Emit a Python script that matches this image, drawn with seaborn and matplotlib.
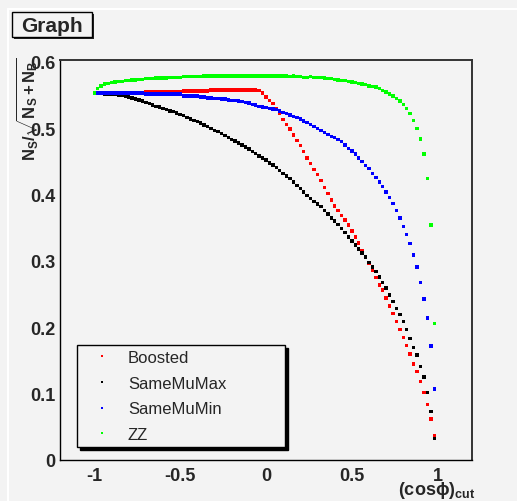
import numpy as np
import pandas as pd
import seaborn as sns
import matplotlib.pyplot as plt
from matplotlib.patches import Rectangle
from matplotlib.lines import Line2D

# cut values on cos(phi), step 0.02
cos_cut = np.round(np.arange(-1.0, 0.99, 0.02), 2)

boosted = [
    0.553, 0.553, 0.553, 0.553, 0.553, 0.553, 0.553, 0.553, 0.553, 0.553,
    0.553, 0.553, 0.553, 0.553, 0.553, 0.555, 0.555, 0.555, 0.555, 0.555,
    0.555, 0.555, 0.555, 0.555, 0.555, 0.555, 0.556, 0.556, 0.556, 0.556,
    0.556, 0.556, 0.556, 0.556, 0.558, 0.558, 0.558, 0.558, 0.558, 0.558,
    0.558, 0.558, 0.558, 0.558, 0.558, 0.558, 0.558, 0.558, 0.557, 0.553,
    0.547, 0.542, 0.537, 0.530, 0.522, 0.513, 0.506, 0.499, 0.490, 0.482,
    0.474, 0.465, 0.455, 0.447, 0.438, 0.430, 0.421, 0.411, 0.402, 0.392,
    0.383, 0.376, 0.369, 0.362, 0.354, 0.345, 0.336, 0.327, 0.316, 0.306,
    0.297, 0.286, 0.275, 0.264, 0.256, 0.244, 0.232, 0.221, 0.209, 0.197,
    0.185, 0.173, 0.160, 0.145, 0.133, 0.118, 0.102, 0.084, 0.062, 0.037,
]
same_mu_max = [
    0.553, 0.553, 0.553, 0.552, 0.552, 0.551, 0.551, 0.550, 0.550, 0.548,
    0.547, 0.546, 0.544, 0.543, 0.541, 0.539, 0.537, 0.535, 0.533, 0.532,
    0.530, 0.528, 0.526, 0.525, 0.523, 0.521, 0.519, 0.516, 0.514, 0.512,
    0.510, 0.508, 0.505, 0.503, 0.500, 0.497, 0.495, 0.492, 0.489, 0.486,
    0.483, 0.481, 0.478, 0.475, 0.472, 0.469, 0.465, 0.462, 0.458, 0.455,
    0.452, 0.448, 0.445, 0.441, 0.436, 0.432, 0.428, 0.424, 0.419, 0.414,
    0.409, 0.404, 0.399, 0.394, 0.390, 0.386, 0.382, 0.376, 0.371, 0.365,
    0.360, 0.355, 0.349, 0.343, 0.336, 0.330, 0.324, 0.318, 0.312, 0.306,
    0.298, 0.291, 0.284, 0.276, 0.268, 0.259, 0.249, 0.239, 0.228, 0.219,
    0.209, 0.197, 0.183, 0.170, 0.158, 0.141, 0.125, 0.102, 0.073, 0.032,
]
same_mu_min = [
    0.553, 0.553, 0.553, 0.553, 0.553, 0.553, 0.553, 0.553, 0.553, 0.553,
    0.553, 0.553, 0.553, 0.553, 0.553, 0.552, 0.552, 0.552, 0.552, 0.552,
    0.552, 0.552, 0.552, 0.552, 0.552, 0.552, 0.549, 0.549, 0.549, 0.549,
    0.549, 0.547, 0.547, 0.546, 0.546, 0.545, 0.545, 0.544, 0.544, 0.543,
    0.542, 0.542, 0.541, 0.540, 0.539, 0.538, 0.536, 0.535, 0.533, 0.532,
    0.531, 0.530, 0.529, 0.528, 0.526, 0.524, 0.522, 0.520, 0.518, 0.516,
    0.514, 0.511, 0.509, 0.506, 0.503, 0.500, 0.497, 0.494, 0.491, 0.488,
    0.486, 0.483, 0.480, 0.475, 0.470, 0.466, 0.461, 0.455, 0.450, 0.444,
    0.439, 0.432, 0.426, 0.419, 0.412, 0.404, 0.396, 0.387, 0.376, 0.365,
    0.352, 0.340, 0.326, 0.309, 0.291, 0.268, 0.243, 0.214, 0.172, 0.107,
]
zz = [
    0.553, 0.560, 0.564, 0.567, 0.568, 0.569, 0.570, 0.571, 0.571, 0.572,
    0.572, 0.573, 0.573, 0.574, 0.574, 0.575, 0.575, 0.575, 0.576, 0.576,
    0.576, 0.576, 0.577, 0.577, 0.577, 0.577, 0.578, 0.578, 0.578, 0.578,
    0.578, 0.578, 0.579, 0.579, 0.579, 0.579, 0.579, 0.579, 0.579, 0.579,
    0.579, 0.579, 0.579, 0.579, 0.579, 0.579, 0.579, 0.579, 0.579, 0.579,
    0.579, 0.579, 0.579, 0.579, 0.579, 0.579, 0.579, 0.578, 0.579, 0.578,
    0.578, 0.577, 0.577, 0.578, 0.577, 0.577, 0.577, 0.576, 0.575, 0.575,
    0.574, 0.573, 0.572, 0.572, 0.571, 0.570, 0.569, 0.568, 0.567, 0.566,
    0.564, 0.563, 0.562, 0.560, 0.557, 0.555, 0.552, 0.549, 0.545, 0.541,
    0.536, 0.530, 0.522, 0.512, 0.500, 0.484, 0.461, 0.424, 0.354, 0.206,
]

samples = ['Boosted', 'SameMuMax', 'SameMuMin', 'ZZ']
colores = ['#ff0000', '#000000', '#0000ff', '#00ff00']

x_ticks = [-1, -0.5, 0, 0.5, 1]
x_ticklabels = ['-1', '-0.5', '0', '0.5', '1']
y_ticks = [0, 0.1, 0.2, 0.3, 0.4, 0.5, 0.6]
y_ticklabels = ['0', '0.1', '0.2', '0.3', '0.4', '0.5', '0.6']

df = pd.DataFrame({
    'cos_cut': np.tile(cos_cut, 4),
    'signif': boosted + same_mu_max + same_mu_min + zz,
    'sample': np.repeat(samples, len(cos_cut)),
})

sns.set_theme(style='white')
plt.rcParams['font.family'] = ['Liberation Sans', 'DejaVu Sans']
plt.rcParams['mathtext.fontset'] = 'custom'
plt.rcParams['mathtext.rm'] = 'Liberation Sans'
plt.rcParams['mathtext.bf'] = 'Liberation Sans:bold'
plt.rcParams['mathtext.it'] = 'Liberation Sans:italic'

bg = '#f3f3f3'
fig = plt.figure(figsize=(5.17, 5.02), dpi=100, facecolor=bg)
W, H = 517, 502
ax = fig.add_axes([60 / W, 41 / H, 412 / W, 400 / H])
ax.set_facecolor(bg)

sns.scatterplot(data=df, x='cos_cut', y='signif', hue='sample', hue_order=samples,
                palette=colores, marker='s', s=6, linewidth=0, ax=ax)

ax.set_xlim(-1.2, 1.2)
ax.set_ylim(0, 0.603)
ax.set_xticks(x_ticks)
ax.set_xticklabels(x_ticklabels)
ax.set_yticks(y_ticks)
ax.set_yticklabels(y_ticklabels)
ax.set_xticks(np.round(np.arange(-1.2, 1.21, 0.1), 2), minor=True)
ax.set_yticks(np.round(np.arange(0, 0.601, 0.02), 2), minor=True)
ax.tick_params(axis='both', which='both', direction='in', width=0.8, color='black',
               top=False, right=False)
ax.tick_params(axis='x', which='major', length=9, pad=5)
ax.tick_params(axis='x', which='minor', length=4.5)
ax.tick_params(axis='y', which='major', length=8.5, pad=3)
ax.tick_params(axis='y', which='minor', length=4.3)
for lab in ax.get_xticklabels() + ax.get_yticklabels():
    lab.set_fontsize(13)
    lab.set_fontweight('bold')
ax.set_xlabel('')
ax.set_ylabel('')

for lado in ['left', 'bottom']:
    ax.spines[lado].set_color('black')
    ax.spines[lado].set_linewidth(1)
for lado in ['top', 'right']:
    ax.spines[lado].set_color('#333333')
    ax.spines[lado].set_linewidth(1.4)

# leyenda
handles, labels = ax.get_legend_handles_labels()
leg = ax.legend(handles, labels, loc='lower left',
                bbox_to_anchor=(17 / 412, 13 / 400, 208 / 412, 0.2), mode='expand',
                borderaxespad=0, borderpad=0.3, handlelength=2.4, handletextpad=0.35,
                labelspacing=0.64, fontsize=12, frameon=True, fancybox=False,
                framealpha=1, shadow={'color': 'black', 'alpha': 1}, markerscale=0.7)
leg.get_frame().set_edgecolor('black')
leg.get_frame().set_facecolor(bg)
leg.get_frame().set_linewidth(1)

# titulos de ejes
fig.text(27 / W, 1 - 57 / H, r'$\mathbf{N_{S}/\sqrt{N_{S}+N_{B}}}$', rotation=90,
         ha='center', va='top', fontsize=12)
fig.text(398 / W, 7 / H, r'$\mathbf{(cos\phi)_{cut}}$', ha='left', va='baseline',
         fontsize=13)

# caja del titulo
fig.add_artist(Rectangle((13.5 / W, 1 - 39.5 / H), 80 / W, 25 / H, transform=fig.transFigure,
                         facecolor='#222222', edgecolor='none'))
fig.add_artist(Rectangle((12 / W, 1 - 38 / H), 80 / W, 25 / H, transform=fig.transFigure,
                         facecolor=bg, edgecolor='black', linewidth=1))
fig.text(52 / W, 1 - 26 / H, 'Graph', ha='center', va='center', fontsize=15,
         fontweight='bold')

# bordes blancos del canvas
fig.add_artist(Line2D([8 / W, 1], [1 - 10 / H, 1 - 10 / H], color='white', lw=1.5,
                      transform=fig.transFigure))
fig.add_artist(Line2D([8 / W, 8 / W], [0, 1 - 10 / H], color='white', lw=1.5,
                      transform=fig.transFigure))

fig.savefig('out.png', dpi=100, facecolor=bg)
